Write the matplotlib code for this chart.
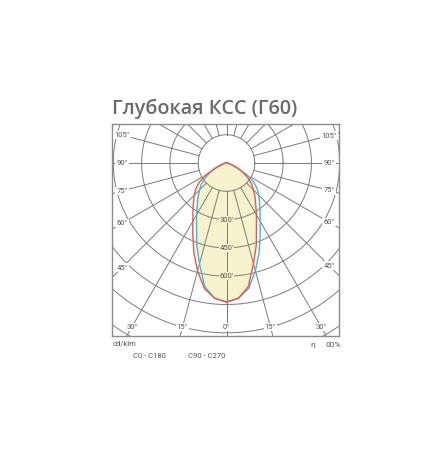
import numpy as np
import matplotlib.pyplot as plt

# luminous intensity, cd/klm, by gamma angle (0 = straight down)
gamma = [0, 5, 10, 15, 20, 25, 30, 35, 40, 45, 50, 55, 60, 65, 70, 75, 80, 85, 90, 120, 150, 180]
c0 = [737, 720, 665, 553, 462, 375, 318, 270, 235, 202, 175, 140, 102, 70, 40, 22, 12, 8, 5, 4, 3, 3]
c180 = [737, 720, 675, 592, 505, 422, 357, 310, 272, 242, 212, 176, 128, 62, 30, 18, 12, 8, 5, 4, 3, 3]
c90 = [737, 720, 675, 592, 505, 422, 357, 310, 272, 242, 212, 176, 128, 62, 30, 18, 12, 8, 5, 4, 3, 3]
c270 = [737, 720, 665, 553, 462, 375, 318, 270, 235, 202, 175, 140, 102, 70, 40, 22, 12, 8, 5, 4, 3, 3]

rings = [150, 300, 450, 600, 750, 900, 1050]
ring_labels = [300, 450, 600]
angle_ticks = [0, 15, 30, 45, 60, 75, 90, 105]

title = "Глубокая КСС (Г60)"

GRID = "#7b7b7b"
TXT = "#555555"
FILL = "#f6f3cc"
RED = "#e8574c"
CYAN = "#3fb6d3"


def curve(right, left):
    g = np.radians(gamma)
    r = np.array(right, float)
    l = np.array(left, float)
    x = np.concatenate([r * np.sin(g), -l[::-1] * np.sin(g[::-1])])
    y = np.concatenate([-r * np.cos(g), -l[::-1] * np.cos(g[::-1])])
    return x, y


fig = plt.figure(figsize=(4.43, 4.66), dpi=100)
ax = fig.add_axes([112 / 443, 1 - 336 / 466, 227 / 443, 212 / 466])
s = 0.1887  # px per cd/klm
cx, cy = 226.5, 163
xmin, xmax = (112 - cx) / s, (339 - cx) / s
ymin, ymax = -(336 - cy) / s, (cy - 124) / s
ax.set_xlim(xmin, xmax)
ax.set_ylim(ymin, ymax)
ax.set_xticks([])
ax.set_yticks([])
for sp in ax.spines.values():
    sp.set_color("#8c8c8c")
    sp.set_linewidth(1.0)

# filled area = common part of both planes
fx, fy = curve(np.minimum(c0, c90), np.minimum(c180, c270))
ax.fill(fx, fy, color=FILL, lw=0, zorder=1)

# grid rings and radials
t = np.linspace(0, 2 * np.pi, 400)
for rr in rings:
    ax.plot(rr * np.cos(t), rr * np.sin(t), color=GRID, lw=0.7, zorder=2)
for a in range(0, 181, 15):
    ar = np.radians(a)
    for sgn in (1, -1):
        ax.plot([sgn * 150 * np.sin(ar), sgn * 3000 * np.sin(ar)],
                [-150 * np.cos(ar), -3000 * np.cos(ar)], color=GRID, lw=0.7, zorder=2)

# curves
x1, y1 = curve(c0, c180)
x2, y2 = curve(c90, c270)
ax.plot(x2, y2, color=CYAN, lw=1.0, zorder=3)
ax.plot(x1, y1, color=RED, lw=1.0, zorder=3)

# intensity labels
for v in ring_labels:
    ax.text(0, -v, f"{v}'", ha="center", va="center", fontsize=5.5, color=TXT,
            family="Roboto", zorder=4,
            bbox=dict(boxstyle="square,pad=0.1", fc=FILL, ec="none"))

# angle labels on the inset frame
mx, my = 10 / s, 9 / s
for a in angle_ticks:
    ar = np.radians(a)
    for sgn in ((1, -1) if a else (1,)):
        dx, dy = sgn * np.sin(ar), -np.cos(ar)
        ts = []
        if dx > 1e-9:
            ts.append((xmax - mx) / dx)
        if dx < -1e-9:
            ts.append((xmin + mx) / dx)
        if dy < -1e-9:
            ts.append((ymin + my) / dy)
        if dy > 1e-9:
            ts.append((ymax - my) / dy)
        tt = min(ts)
        ax.text(tt * dx, tt * dy, f"{a}°", ha="center", va="center", fontsize=5.5,
                color=TXT, family="Roboto", zorder=4,
                bbox=dict(boxstyle="square,pad=0.15", fc="white", ec="none"))

fig.text(112 / 443, 1 - 114 / 466, title, fontsize=14.2, fontweight="semibold",
         family="Open Sans", color="#6a6a6a", ha="left", va="baseline")
fig.text(113 / 443, 1 - 343 / 466, "cd/klm", fontsize=5.5, color=TXT, family="Roboto",
         ha="left", va="center")
fig.text(133 / 443, 1 - 356 / 466, "C0 - C180", fontsize=5.5, color=TXT, family="Roboto",
         ha="left", va="center")
fig.text(188 / 443, 1 - 356 / 466, "C90 - C270", fontsize=5.5, color=TXT, family="Roboto",
         ha="left", va="center")
fig.text(313 / 443, 1 - 345 / 466, "η", fontsize=6, color=TXT, family="Roboto",
         ha="center", va="center")
fig.text(341 / 443, 1 - 345 / 466, "00%", fontsize=6, color=TXT, family="Roboto",
         ha="right", va="center")

fig.savefig("out.png", dpi=100)
